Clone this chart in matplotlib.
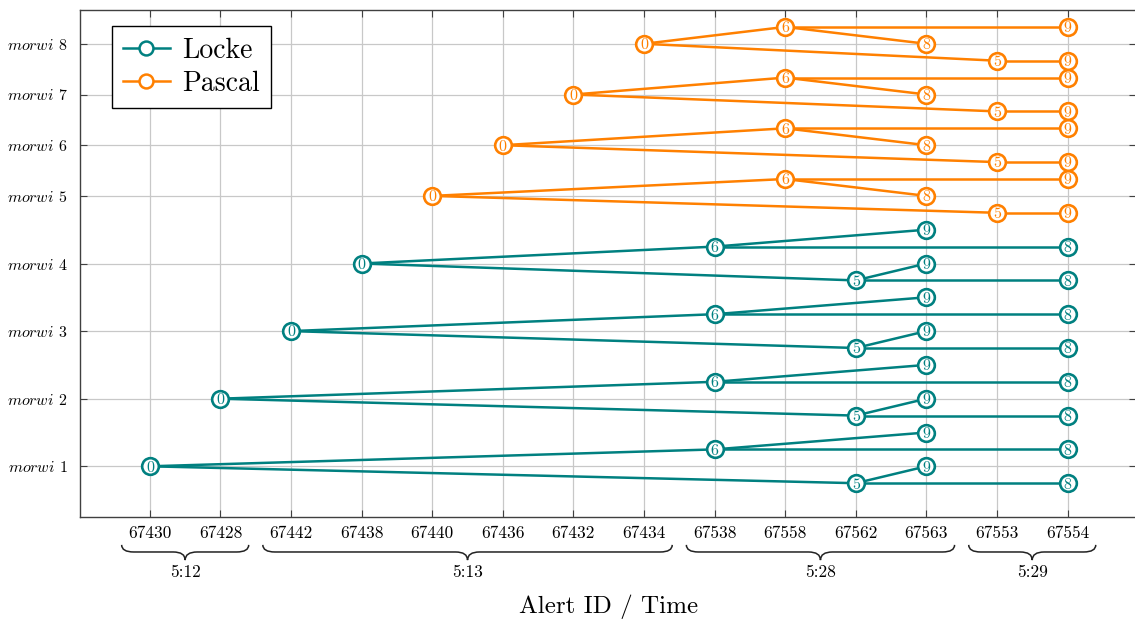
import matplotlib
matplotlib.use("Agg")
import matplotlib.pyplot as plt
from matplotlib.path import Path
from matplotlib.patches import PathPatch
from matplotlib.lines import Line2D

plt.rcParams['font.family'] = 'serif'
plt.rcParams['font.serif'] = ['cmr10', 'DejaVu Serif']
plt.rcParams['mathtext.fontset'] = 'cm'
plt.rcParams['axes.unicode_minus'] = False
plt.rcParams['axes.formatter.use_mathtext'] = True

# ---- data ----
x_labels = ['67430', '67428', '67442', '67438', '67440', '67436', '67432',
            '67434', '67538', '67558', '67562', '67563', '67553', '67554']
group_names = ['5:12', '5:13', '5:28', '5:29']
group_first = [0, 2, 8, 12]
group_last = [1, 7, 11, 13]

y_tick_pos = [1, 2, 3, 4, 5, 5.75, 6.5, 7.25]
y_tick_labels = [r'$morwi$ 1', r'$morwi$ 2', r'$morwi$ 3', r'$morwi$ 4',
                 r'$morwi$ 5', r'$morwi$ 6', r'$morwi$ 7', r'$morwi$ 8']

# Locke
locke_root_x = [0, 1, 2, 3]
locke_row_y = [1, 2, 3, 4]
locke_labels = ['0', '6', '9', '8', '5', '9', '8']
locke_x = [None, 8, 11, 13, 10, 11, 13]
locke_dy = [0, 0.25, 0.5, 0.25, -0.25, 0, -0.25]
locke_edges = [(0, 1), (1, 2), (1, 3), (0, 4), (4, 5), (4, 6)]

# Pascal
pascal_root_x = [4, 5, 6, 7]
pascal_row_y = [5, 5.75, 6.5, 7.25]
pascal_labels = ['0', '6', '9', '8', '5', '9']
pascal_x = [None, 9, 13, 11, 12, 13]
pascal_dy = [0, 0.25, 0.25, 0, -0.25, -0.25]
pascal_edges = [(0, 1), (1, 2), (1, 3), (0, 4), (4, 5)]

LOCKE = '#008080'
PASCAL = '#ff8000'

W, H = 1135, 623
fig = plt.figure(figsize=(W / 100, H / 100), dpi=100)
ax = fig.add_axes([80 / W, 1 - 517 / H, (1136 - 80) / W, (517 - 10) / H])

ax.set_xlim(-0.99, 13.97)
ax.set_ylim(0.25, 7.75)


def draw_series(root_x, row_y, labels, xs, dys, edges, color):
    for rx, ry in zip(root_x, row_y):
        px = [rx if x is None else x for x in xs]
        py = [ry + d for d in dys]
        for a, b in edges:
            ax.plot([px[a], px[b]], [py[a], py[b]], color=color, lw=1.8,
                    zorder=3, solid_capstyle='round')
        ax.plot(px, py, linestyle='none', marker='o', ms=12,
                mfc='white', mec=color, mew=1.9, zorder=4)
        for x, y, t in zip(px, py, labels):
            ax.text(x, y, t, color=color, fontsize=11.5, ha='center',
                    va='center_baseline', zorder=5)


draw_series(locke_root_x, locke_row_y, locke_labels, locke_x, locke_dy,
            locke_edges, LOCKE)
draw_series(pascal_root_x, pascal_row_y, pascal_labels, pascal_x, pascal_dy,
            pascal_edges, PASCAL)

ax.set_xticks(range(len(x_labels)))
ax.set_xticklabels(x_labels, fontsize=12.5)
ax.set_yticks(y_tick_pos)
ax.set_yticklabels(y_tick_labels, fontsize=11.5)
ax.tick_params(direction='in', length=5, width=0.8, color='#404040',
               top=True, right=True)
ax.tick_params(axis='x', pad=6)
ax.tick_params(axis='y', pad=9)
ax.grid(True, color='#c8c8c8', lw=0.9, zorder=0)
ax.set_axisbelow(True)
for s in ax.spines.values():
    s.set_color('#404040')
    s.set_linewidth(1.0)

# braces
trans = ax.get_xaxis_transform()
yt, ym, yb = -0.055, -0.069, -0.085
r = 0.17
for name, a, b in zip(group_names, group_first, group_last):
    x0, x1 = a - 0.4, b + 0.4
    xc = (x0 + x1) / 2
    verts = [(x0, yt), (x0, ym), (x0 + r, ym), (xc - r, ym), (xc, ym), (xc, yb),
             (xc, ym), (xc + r, ym), (x1 - r, ym), (x1, ym), (x1, yt)]
    codes = [Path.MOVETO, Path.CURVE3, Path.CURVE3, Path.LINETO, Path.CURVE3,
             Path.CURVE3, Path.CURVE3, Path.CURVE3, Path.LINETO, Path.CURVE3,
             Path.CURVE3]
    ax.add_patch(PathPatch(Path(verts, codes), transform=trans, fill=False,
                           lw=1.1, edgecolor='#222222', clip_on=False))
    ax.text(xc, -0.110, name, transform=trans, ha='center', va='center',
            fontsize=12.5)

fig.text((518 + 700) / 2 / W, 1 - 607 / H, 'Alert ID / Time', ha='center',
         va='center', fontsize=18)

handles = [Line2D([], [], color=LOCKE, lw=1.8, marker='o', ms=10,
                  mfc='white', mec=LOCKE, mew=1.8),
           Line2D([], [], color=PASCAL, lw=1.8, marker='o', ms=10,
                  mfc='white', mec=PASCAL, mew=1.8)]
leg = ax.legend(handles, ['Locke', 'Pascal'], loc='upper left',
                bbox_to_anchor=(0.03, 0.968), borderaxespad=0, fontsize=20,
                fancybox=False, framealpha=1, edgecolor='black',
                handlelength=1.7, handletextpad=0.45, labelspacing=0.25,
                borderpad=0.4)
leg.get_frame().set_linewidth(1.0)
leg.set_zorder(10)

fig.savefig('out.png', dpi=100)
